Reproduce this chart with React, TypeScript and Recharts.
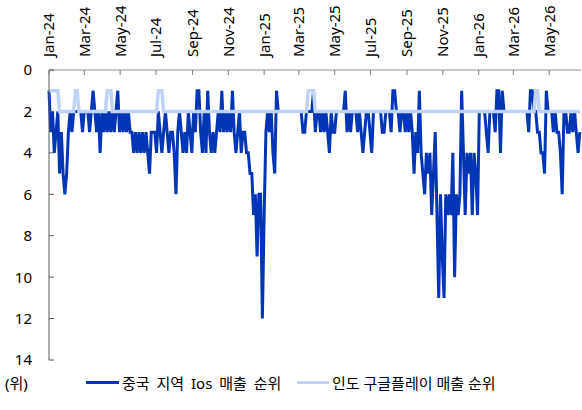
import React from 'react';
import { LineChart, Line, XAxis, YAxis } from 'recharts';

// one sample every 3 days, starting 1 Jan 2024
const STEP_DAYS = 3;

const tickLabels = [
  'Jan-24', 'Mar-24', 'May-24', 'Jul-24', 'Sep-24', 'Nov-24',
  'Jan-25', 'Mar-25', 'May-25', 'Jul-25', 'Sep-25', 'Nov-25',
  'Jan-26', 'Mar-26', 'May-26',
];
const tickDays = [0, 60, 121, 182, 244, 305, 366, 425, 486, 547, 609, 670, 731, 790, 851];
const rankTicks = [0, 2, 4, 6, 8, 10, 12, 14];

const chinaIosRank = [
  1, 3, 2, 4, 3, 2, 5, 3, 5, 6,
  5, 3, 2, 3, 2, 2, 2, 2, 2, 3,
  2, 2, 2, 3, 2, 1, 2, 3, 2, 4,
  2, 3, 2, 3, 2, 3, 2, 3, 2, 1,
  3, 2, 3, 2, 3, 2, 3, 3, 4, 3,
  4, 3, 4, 3, 4, 3, 4, 5, 3, 3,
  3, 4, 2, 3, 4, 3, 2, 3, 4, 3,
  3, 4, 6, 3, 2, 3, 4, 3, 4, 2,
  3, 4, 2, 3, 1, 1, 3, 4, 2, 4,
  1, 3, 4, 3, 4, 3, 2, 3, 1, 3,
  2, 3, 2, 3, 1, 3, 4, 3, 2, 4,
  3, 3, 4, 4, 5, 5, 7, 6, 9, 6,
  6, 12, 7, 3, 2, 3, 2, 4, 5, 1,
  2, 2, 2, 2, 2, 2, 2, 2, 2, 2,
  2, 2, 2, 2, 3, 3, 2, 2, 2, 2,
  1, 3, 2, 2, 3, 2, 3, 2, 3, 4,
  2, 3, 3, 2, 2, 2, 2, 2, 1, 3,
  2, 3, 2, 2, 2, 3, 2, 3, 4, 3,
  2, 2, 3, 4, 2, 2, 2, 2, 2, 3,
  3, 2, 2, 2, 3, 1, 1, 2, 2, 3,
  2, 2, 3, 2, 3, 2, 3, 5, 3, 4,
  1, 4, 5, 6, 4, 5, 4, 7, 5, 3,
  7, 11, 6, 9, 11, 6, 7, 6, 7, 4,
  10, 6, 7, 6, 1, 4, 7, 4, 5, 4,
  7, 4, 5, 7, 2, 2, 2, 2, 3, 4,
  2, 2, 2, 3, 1, 1, 4, 1, 2, 2,
  2, 2, 2, 2, 2, 2, 2, 2, 2, 2,
  2, 2, 3, 1, 1, 2, 2, 3, 3, 4,
  4, 5, 1, 2, 2, 2, 3, 2, 3, 3,
  4, 6, 2, 2, 3, 3, 2, 3, 2, 3, 4, 3,
];

const indiaGooglePlayRank = [
  1, 1, 1, 1, 1, 1, 2, 2, 2, 2,
  2, 2, 2, 2, 2, 1, 1, 2, 2, 2,
  2, 2, 2, 2, 2, 2, 2, 2, 2, 2,
  2, 2, 2, 1, 1, 1, 2, 2, 2, 2,
  2, 2, 2, 2, 2, 2, 2, 2, 2, 2,
  2, 2, 2, 2, 2, 2, 2, 2, 2, 2,
  2, 2, 1, 1, 1, 2, 2, 2, 2, 2,
  2, 2, 2, 2, 2, 2, 2, 2, 2, 2,
  2, 2, 2, 2, 2, 2, 2, 2, 2, 2,
  2, 2, 2, 2, 2, 2, 2, 2, 2, 2,
  2, 2, 2, 2, 2, 2, 2, 2, 2, 2,
  2, 2, 2, 2, 2, 2, 2, 2, 2, 2,
  2, 2, 2, 2, 2, 2, 2, 2, 2, 2,
  2, 2, 2, 2, 2, 2, 2, 2, 2, 2,
  2, 2, 2, 2, 2, 2, 2, 1, 1, 1,
  1, 2, 2, 2, 2, 2, 2, 2, 2, 2,
  2, 2, 2, 2, 2, 2, 2, 2, 2, 2,
  2, 2, 2, 2, 2, 2, 2, 2, 2, 2,
  2, 2, 2, 2, 2, 2, 2, 2, 2, 2,
  2, 2, 2, 2, 2, 2, 2, 2, 2, 2,
  2, 2, 2, 2, 2, 2, 2, 2, 2, 2,
  2, 2, 2, 2, 2, 2, 2, 2, 2, 2,
  2, 2, 2, 2, 2, 2, 2, 2, 2, 2,
  2, 2, 2, 2, 2, 2, 2, 2, 2, 2,
  2, 2, 2, 2, 2, 2, 2, 2, 2, 2,
  2, 2, 2, 2, 2, 2, 2, 2, 2, 2,
  2, 2, 2, 2, 2, 2, 2, 2, 2, 2,
  2, 2, 2, 2, 2, 2, 1, 1, 2, 2,
  2, 2, 2, 2, 2, 2, 2, 2, 2, 2,
  2, 2, 2, 2, 2, 2, 2, 2, 2, 2, 2, 2,
];

const chartData = chinaIosRank.map((v, i) => ({
  day: i * STEP_DAYS,
  china: v,
  india: indiaGooglePlayRank[i],
}));

const FONT = '"Noto Sans", "Noto Sans CJK KR", sans-serif';
const DARK = '#0036b6';
const LIGHT = '#bfd3fa';

const TopTick = (props: any) => {
  const { x, y, payload } = props;
  const label = tickLabels[tickDays.indexOf(payload.value)];
  const ty = y - 13;
  return (
    <g>
      <line x1={x} y1={y} x2={x} y2={y + 5} stroke="#7f7f7f" strokeWidth={1} />
      <text
        x={x}
        y={ty}
        dy="0.36em"
        transform={`rotate(-90 ${x} ${ty})`}
        textAnchor="start"
        fill="#000"
        fontSize={15}
        fontFamily={FONT}
      >
        {label}
      </text>
    </g>
  );
};

const LeftTick = (props: any) => {
  const { x, y, payload } = props;
  return (
    <g>
      <line x1={x} y1={y} x2={x + 5} y2={y} stroke="#595959" strokeWidth={1} />
      <text x={x - 17} y={y} dy="0.36em" textAnchor="end" fill="#000" fontSize={15} fontFamily={FONT}>
        {payload.value}
      </text>
    </g>
  );
};

const legendItem = { position: 'absolute' as const, top: 372, display: 'flex', alignItems: 'center', fontSize: 15, color: '#000', whiteSpace: 'nowrap' as const };

export default function App() {
  return (
    <div style={{ position: 'absolute', left: 0, top: 0, width: 582, height: 410, background: '#fff', fontFamily: FONT }}>
      <LineChart width={582} height={410} data={chartData} margin={{ top: 8, right: 1, left: 9, bottom: 50 }}>
        <XAxis
          dataKey="day"
          type="number"
          orientation="top"
          domain={[0, 905]}
          ticks={tickDays}
          interval={0}
          height={62}
          tickSize={0}
          tickMargin={0}
          tickLine={false}
          axisLine={{ stroke: '#8c8c8c' }}
          tick={<TopTick />}
        />
        <YAxis
          type="number"
          domain={[0, 14]}
          reversed
          ticks={rankTicks}
          interval={0}
          width={40}
          tickSize={0}
          tickMargin={0}
          tickLine={false}
          axisLine={{ stroke: '#595959' }}
          tick={<LeftTick />}
        />
        <Line
          dataKey="china"
          type="linear"
          stroke={DARK}
          strokeWidth={3}
          dot={false}
          isAnimationActive={false}
        />
        <Line
          dataKey="india"
          type="linear"
          stroke={LIGHT}
          strokeWidth={3.5}
          dot={false}
          isAnimationActive={false}
        />
      </LineChart>
      <div style={{ position: 'absolute', left: 5, top: 372, fontSize: 15, color: '#000' }}>(위)</div>
      <div style={{ ...legendItem, left: 86 }}>
        <span style={{ display: 'inline-block', width: 33, height: 3, background: DARK, marginRight: 3 }} />
        <span style={{ wordSpacing: 3 }}>중국 지역 Ios 매출 순위</span>
      </div>
      <div style={{ ...legendItem, left: 297 }}>
        <span style={{ display: 'inline-block', width: 32, height: 3, background: LIGHT, marginRight: 3 }} />
        <span>인도 구글플레이 매출 순위</span>
      </div>
    </div>
  );
}
